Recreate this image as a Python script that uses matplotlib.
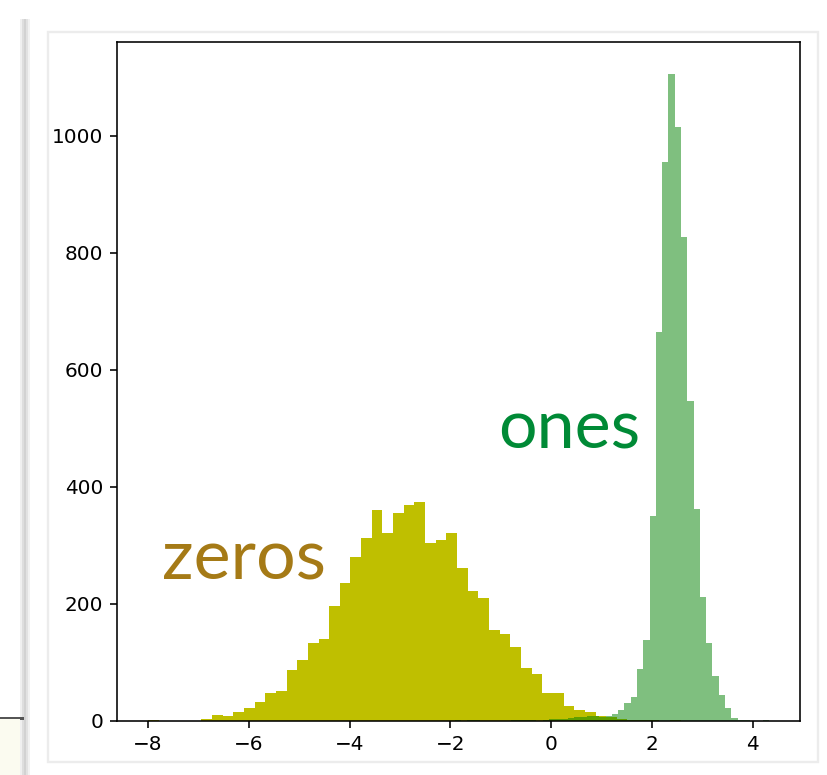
import numpy as np
import matplotlib
matplotlib.use("Agg")
import matplotlib.pyplot as plt
from matplotlib.patches import Rectangle
from matplotlib.lines import Line2D

# ---- data ----
zeros_start = -8.0
zeros_stop = 2.57
zeros_counts = [1, 0, 0, 0, 0, 3, 10, 8, 15, 22,
                32, 48, 52, 87, 105, 134, 140, 196, 235, 280,
                312, 360, 322, 355, 369, 375, 304, 309, 322, 261,
                222, 211, 155, 148, 126, 90, 80, 48, 48, 25,
                19, 16, 8, 6, 3, 2, 1, 1, 0, 1]

ones_start = -1.916
ones_stop = 4.32
ones_counts = [1, 0, 2, 1, 0, 0, 0, 0, 0, 1,
               2, 2, 1, 0, 1, 3, 4, 3, 5, 7,
               7, 8, 8, 7, 9, 12, 19, 31, 41, 89,
               138, 350, 665, 955, 1105, 1015, 827, 547, 362, 212,
               134, 77, 44, 22, 5, 2, 1, 0, 0, 1]

xticks = [-8, -6, -4, -2, 0, 2, 4]
yticks = [0, 200, 400, 600, 800, 1000]

zeros_edges = np.linspace(zeros_start, zeros_stop, len(zeros_counts) + 1)
ones_edges = np.linspace(ones_start, ones_stop, len(ones_counts) + 1)

DPI = 144
W, H = 827, 775
fig = plt.figure(figsize=(W / DPI, H / DPI), dpi=DPI)

# screenshot-like frame decorations
fig.patches.append(Rectangle((48 / W, 1 - 762 / H), (818 - 48) / W, (762 - 32) / H,
                             transform=fig.transFigure, fill=False,
                             edgecolor="#ececec", linewidth=1.2, zorder=0))
for dx, c in [(21, "#f0f0f0"), (23, "#dedede"), (25, "#d2d2d2"), (27, "#e2e2e2"), (29, "#f2f2f2")]:
    fig.lines.append(Line2D([dx / W, dx / W], [1 - 20 / H, 0], transform=fig.transFigure,
                            color=c, linewidth=1.0, zorder=0))
fig.patches.append(Rectangle((0, 0), 20 / W, (H - 719) / H, transform=fig.transFigure,
                             facecolor="#fbfbf0", edgecolor="none", zorder=0))
fig.lines.append(Line2D([0, 22 / W], [1 - 718 / H, 1 - 718 / H], transform=fig.transFigure,
                        color="#555555", linewidth=1.5, zorder=0))

ax = fig.add_axes([117 / W, 54 / H, (800 - 117) / W, (721 - 42) / H])

ax.hist(zeros_edges[:-1], bins=zeros_edges, weights=zeros_counts, color="y")
ax.hist(ones_edges[:-1], bins=ones_edges, weights=ones_counts, color="g", alpha=0.5)

ax.set_xticks(xticks)
ax.set_yticks(yticks)
ax.set_xticklabels([f"\u2212{abs(t)}" if t < 0 else str(t) for t in xticks])

ax.text(-7.72, 241, "zeros", fontsize=35, color="#a57a16", family="Lato")
ax.text(-1.05, 465, "ones", fontsize=34, color="#008a36", family="Lato")

fig.savefig("out.png", dpi=DPI)
